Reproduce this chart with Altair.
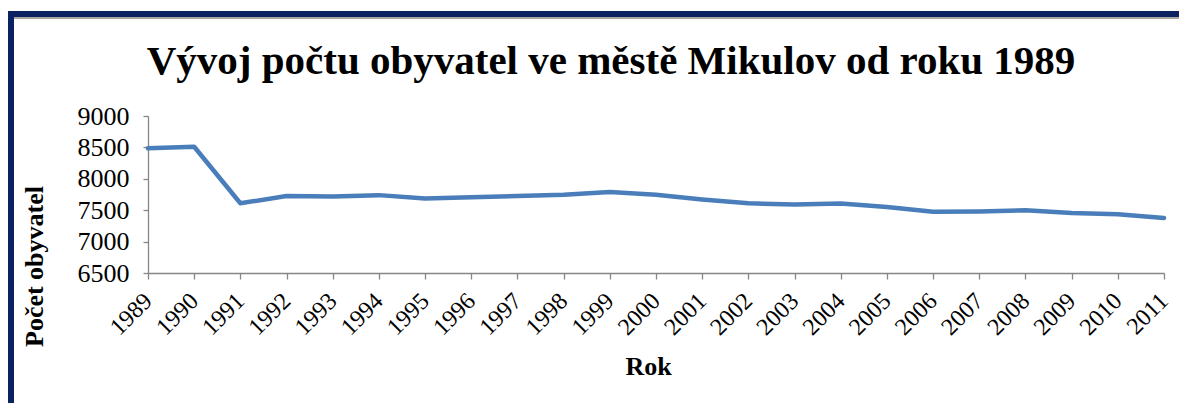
import altair as alt
import pandas as pd

years = [str(y) for y in range(1989, 2012)]
population = [8485, 8510, 7610, 7725, 7720, 7740, 7685, 7705, 7725, 7745, 7790,
              7745, 7670, 7610, 7590, 7605, 7550, 7475, 7480, 7500, 7455, 7435, 7375]

df = pd.DataFrame({"Rok": years, "Obyvatel": population})

W, H = 1016, 157
FONT = "Liberation Serif"

line = alt.Chart(df).mark_line(color="#4a7ebb", strokeWidth=4.5, strokeCap="round", strokeJoin="round").encode(
    x=alt.X("Rok:O", scale=alt.Scale(type="point", padding=0),
            axis=alt.Axis(title="Rok", labelAngle=-45, labelAlign="right", labelBaseline="middle",
                          labelFontSize=24, labelFont=FONT, labelColor="#000000",
                          titleFont=FONT, titleFontSize=26, titleFontWeight="bold", titleColor="#000000",
                          titlePadding=14, titleX=500, tickSize=6, labelPadding=18)),
    y=alt.Y("Obyvatel:Q", scale=alt.Scale(domain=[6500, 9000], nice=False, zero=False),
            axis=alt.Axis(title="Počet obyvatel", values=[6500, 7000, 7500, 8000, 8500, 9000], format="d",
                          labelFontSize=26, labelFont=FONT, labelColor="#000000", labelPadding=14,
                          titleFont=FONT, titleFontSize=26, titleFontWeight="bold", titleColor="#000000",
                          titleX=-101, titleY=150, tickSize=5, grid=False)),
)

frame = alt.Chart(pd.DataFrame({"k": [0]})).mark_rule(color="#0b2260", strokeWidth=7, strokeCap="butt").encode(
    x=alt.value(-137.5), y=alt.value(-105), y2=alt.value(300))
top_bar = alt.Chart(pd.DataFrame({"k": [0]})).mark_rule(color="#0b2260", strokeWidth=6, strokeCap="butt").encode(
    x=alt.value(-141), x2=alt.value(1050), y=alt.value(-102))
gray_bar = alt.Chart(pd.DataFrame({"k": [0]})).mark_rule(color="#a8a8a0", strokeWidth=2, strokeCap="butt").encode(
    x=alt.value(-134), x2=alt.value(1050), y=alt.value(-98))

chart = alt.layer(line, frame, top_bar, gray_bar).properties(
    width=W, height=H,
    title=alt.TitleParams("Vývoj počtu obyvatel ve městě Mikulov od roku 1989", font=FONT, fontSize=41,
                          fontWeight="bold", color="#000000", anchor="middle", dx=-45,
                          baseline="alphabetic", offset=-107),
    autosize=alt.AutoSizeParams(type="none"),
    padding={"left": 140, "top": 108, "right": 15, "bottom": 130},
).configure_view(stroke=None).configure_axis(
    domainColor="#868686", tickColor="#868686", domainWidth=1.3, tickWidth=1.3
)

chart.save("out.html", embed_options={"renderer": "svg", "actions": False})
